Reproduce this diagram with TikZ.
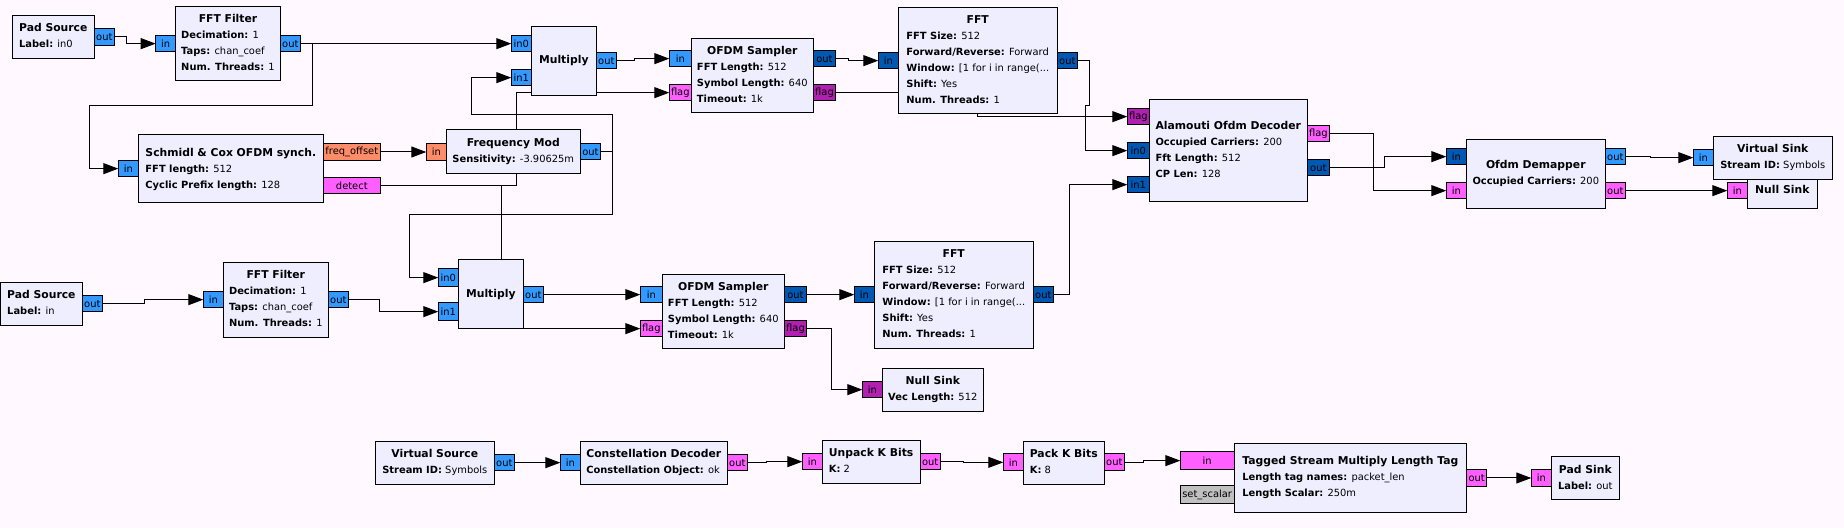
\documentclass[tikz,border=0pt]{standalone}
\usepackage{fontspec}
\setmainfont{DejaVu Sans}
\usetikzlibrary{arrows.meta}
\pgfdeclarelayer{bg}
\pgfsetlayers{bg,main}
\definecolor{bgcol}{RGB}{255,249,255}
\definecolor{blockfill}{RGB}{239,238,255}
\definecolor{cf}{RGB}{51,153,255}
\definecolor{cfv}{RGB}{0,88,178}
\definecolor{by}{RGB}{255,95,255}
\definecolor{byv}{RGB}{178,32,178}
\definecolor{fl}{RGB}{255,140,105}
\definecolor{msg}{RGB}{192,192,192}
\newcommand\gttl[1]{\multicolumn{1}{@{}c@{}}{\fontsize{5.4}{8}\selectfont\bfseries #1}}
\newcommand\gprm[2]{\textbf{#1:} #2}
\newcommand\gblk[6]{\node[block, minimum width={(#4-#2)*0.5pt}, minimum height={(#5-#3)*0.5pt}] (#1) at (#2,#3) {\begin{tabular}{@{}l@{}}#6\end{tabular}};}
\newcommand\gprt[7]{\node[port, fill=#6, minimum width={(#4-#2)*0.5pt}, minimum height={(#5-#3)*0.5pt}] (#1) at (#2,#3) {#7};}
\begin{document}
\begin{tikzpicture}[x=0.5pt, y=-0.5pt,
  block/.style={draw=black, line width=0.5pt, fill=blockfill, inner sep=0pt, outer sep=0pt, anchor=north west, font=\fontsize{4.95}{8}\selectfont},
  port/.style={draw=black, line width=0.5pt, inner sep=0pt, outer sep=0pt, anchor=north west, font=\fontsize{4.95}{6}\selectfont},
  conn/.style={line width=0.5pt, draw=black, -{Triangle[length=7.5pt,width=5.5pt]}}]
\begin{pgfonlayer}{bg}
\fill[bgcol] (0,0) rectangle (1844,528);
\end{pgfonlayer}
\useasboundingbox (0,0) rectangle (1844,528);
% ---------- blocks ----------
\gblk{ps1}{12.3}{15.3}{94.3}{58.3}{\gttl{Pad Source}\\\gprm{Label}{in0}}
\gblk{ff1}{175.7}{6.3}{280.3}{81}{\gttl{FFT Filter}\\\gprm{Decimation}{1}\\\gprm{Taps}{chan\_coef}\\\gprm{Num. Threads}{1}}
\gblk{sc}{138.3}{134.7}{323.3}{203}{\gttl{Schmidl \& Cox OFDM synch.}\\\gprm{FFT length}{512}\\\gprm{Cyclic Prefix length}{128}}
\gblk{fm}{446.3}{130}{580.3}{173.3}{\gttl{Frequency Mod}\\\gprm{Sensitivity}{-3.90625m}}
\gblk{m1}{531.3}{26.3}{596.3}{95.3}{\gttl{Multiply}}
\gblk{o1}{691.3}{38.3}{813.3}{113}{\gttl{OFDM Sampler}\\\gprm{FFT Length}{512}\\\gprm{Symbol Length}{640}\\\gprm{Timeout}{1k}}
\gblk{f1}{898.3}{7.3}{1057.3}{114}{\gttl{FFT}\\\gprm{FFT Size}{512}\\\gprm{Forward/Reverse}{Forward}\\\gprm{Window}{[1 for i in range(...}\\\gprm{Shift}{Yes}\\\gprm{Num. Threads}{1}}
\gblk{al}{1149.3}{99.3}{1307.3}{202}{\gttl{Alamouti Ofdm Decoder}\\\gprm{Occupied Carriers}{200}\\\gprm{Fft Length}{512}\\\gprm{CP Len}{128}}
\gblk{dm}{1466.3}{139.3}{1605.3}{208.3}{\gttl{Ofdm Demapper}\\\gprm{Occupied Carriers}{200}}
\gblk{nsb}{1747.3}{172}{1817.3}{208.3}{\gttl{Null Sink}}
\gblk{vsk}{1713.3}{136.3}{1832.3}{179.3}{\gttl{Virtual Sink}\\\gprm{Stream ID}{Symbols}}
\gblk{ps2}{0.5}{282.3}{82.3}{325.3}{\gttl{Pad Source}\\\gprm{Label}{in}}
\gblk{ff2}{223.3}{262.3}{328.3}{337.3}{\gttl{FFT Filter}\\\gprm{Decimation}{1}\\\gprm{Taps}{chan\_coef}\\\gprm{Num. Threads}{1}}
\gblk{m2}{458.3}{260}{523.3}{329}{\gttl{Multiply}}
\gblk{o2}{662.3}{274.3}{784.3}{349}{\gttl{OFDM Sampler}\\\gprm{FFT Length}{512}\\\gprm{Symbol Length}{640}\\\gprm{Timeout}{1k}}
\gblk{f2}{874.3}{241.3}{1033.3}{348.3}{\gttl{FFT}\\\gprm{FFT Size}{512}\\\gprm{Forward/Reverse}{Forward}\\\gprm{Window}{[1 for i in range(...}\\\gprm{Shift}{Yes}\\\gprm{Num. Threads}{1}}
\gblk{nsa}{882.3}{368.3}{983.3}{411.3}{\gttl{Null Sink}\\\gprm{Vec Length}{512}}
\gblk{vsrc}{375.3}{441.3}{494.3}{484.3}{\gttl{Virtual Source}\\\gprm{Stream ID}{Symbols}}
\gblk{cd}{580.3}{441.3}{727.3}{484.3}{\gttl{Constellation Decoder}\\\gprm{Constellation Object}{ok}}
\gblk{up}{822.3}{440.3}{920}{483.3}{\gttl{Unpack K Bits}\\\gprm{K}{2}}
\gblk{pk}{1023.3}{441.3}{1104.3}{484.3}{\gttl{Pack K Bits}\\\gprm{K}{8}}
\gblk{tg}{1234}{443.3}{1466.7}{512.3}{\gttl{Tagged Stream Multiply Length Tag}\\\gprm{Length tag names}{packet\_len}\\\gprm{Length Scalar}{250m}}
\gblk{psk}{1551.3}{456.7}{1619.3}{499.3}{\gttl{Pad Sink}\\\gprm{Label}{out}}
% ---------- ports ----------
\gprt{ps1o}{94.3}{28.7}{114.3}{45.3}{cf}{out}
\gprt{ff1i}{155.7}{35.3}{175.7}{52}{cf}{in}
\gprt{ff1o}{280.3}{35.3}{300.3}{52}{cf}{out}
\gprt{sci}{118.3}{160.3}{138.3}{177}{cf}{in}
\gprt{scf}{323.3}{143.7}{380.3}{160.3}{fl}{freq\_offset}
\gprt{scd}{323.3}{177.3}{380.3}{194}{by}{detect}
\gprt{fmi}{426.3}{143.7}{446.3}{160.3}{fl}{in}
\gprt{fmo}{580.3}{143.3}{600.7}{160}{cf}{out}
\gprt{m1a}{511.3}{35.3}{531.3}{52}{cf}{in0}
\gprt{m1b}{511.3}{69.3}{531.3}{86}{cf}{in1}
\gprt{m1o}{596.3}{52.3}{616.3}{69}{cf}{out}
\gprt{o1i}{669.3}{50.3}{691.3}{67}{cf}{in}
\gprt{o1f}{669.3}{84.3}{691.3}{101}{by}{flag}
\gprt{o1o}{813.3}{50.3}{835.7}{67}{cfv}{out}
\gprt{o1g}{813.3}{84.3}{835.7}{101}{byv}{flag}
\gprt{f1i}{878.3}{52.3}{898.3}{69}{cfv}{in}
\gprt{f1o}{1057.3}{52.3}{1077.3}{69}{cfv}{out}
\gprt{alf}{1127.3}{108.3}{1149.3}{125}{byv}{flag}
\gprt{ala}{1127.3}{142.3}{1149.3}{159}{cfv}{in0}
\gprt{alb}{1127.3}{176.3}{1149.3}{193}{cfv}{in1}
\gprt{alg}{1307.3}{125.3}{1329.3}{142}{by}{flag}
\gprt{alo}{1307.3}{159.3}{1329.3}{176}{cfv}{out}
\gprt{dma}{1446.3}{148.3}{1466.3}{165}{cfv}{in}
\gprt{dmb}{1446.3}{182.3}{1466.3}{199}{by}{in}
\gprt{dmo}{1605.3}{148.3}{1625.3}{165}{cf}{out}
\gprt{dmp}{1605.3}{182.3}{1625.3}{199}{by}{out}
\gprt{vski}{1693.3}{149.3}{1713.3}{166}{cf}{in}
\gprt{nsbi}{1727.3}{182.3}{1747.3}{199}{by}{in}
\gprt{ps2o}{82.3}{295.3}{102.3}{312}{cf}{out}
\gprt{ff2i}{203.3}{291.3}{223.3}{308}{cf}{in}
\gprt{ff2o}{328.3}{291.3}{348.3}{308}{cf}{out}
\gprt{m2a}{438.3}{269}{458.3}{286.3}{cf}{in0}
\gprt{m2b}{438.3}{303}{458.3}{320.3}{cf}{in1}
\gprt{m2o}{523.3}{286.3}{543.3}{303}{cf}{out}
\gprt{o2i}{640.3}{286.3}{662.3}{303}{cf}{in}
\gprt{o2f}{640.3}{320.3}{662.3}{337}{by}{flag}
\gprt{o2o}{784.3}{286.3}{806.7}{303}{cfv}{out}
\gprt{o2g}{784.3}{320.3}{806.7}{337}{byv}{flag}
\gprt{f2i}{854.3}{286.3}{874.3}{303}{cfv}{in}
\gprt{f2o}{1033.3}{286.3}{1053.3}{303}{cfv}{out}
\gprt{nsai}{862.3}{381.3}{882.3}{398}{byv}{in}
\gprt{vsrco}{494.3}{454.3}{514.3}{471}{cf}{out}
\gprt{cdi}{560.3}{454.3}{580.3}{471}{cf}{in}
\gprt{cdo}{727.3}{454.3}{747.3}{471}{by}{out}
\gprt{upi}{802.3}{453.3}{822.3}{470}{by}{in}
\gprt{upo}{920}{453.3}{940.3}{470}{by}{out}
\gprt{pki}{1003.3}{454}{1023.3}{470.7}{by}{in}
\gprt{pko}{1104.3}{454}{1124.3}{470.7}{by}{out}
\gprt{tgi}{1180.3}{452}{1234}{469.3}{by}{in}
\gprt{tgs}{1180.3}{486}{1234}{503.3}{msg}{set\_scalar}
\gprt{tgo}{1466.7}{469.3}{1486.7}{486.7}{by}{out}
\gprt{pski}{1531.3}{469.3}{1551.3}{486.7}{by}{in}
% ---------- connections ----------
\begin{pgfonlayer}{bg}
\draw[conn] (ps1o.east) -- ++(11.7,0) |- (ff1i.west);
\draw[conn] (ff1o.east) -- (m1a.west);
\draw[conn] (ff1o.east) -- ++(12,0) |- (89.3,105.3) |- (sci.west);
\draw[conn] (scf.east) -- (fmi.west);
\draw[conn] (scd.east) -- ++(136.4,0) |- (o1f.west);
\draw[conn] (scd.east) -- ++(121,0) |- (o2f.west);
\draw[conn] (fmo.east) -- ++(11.6,0) |- (471.3,114.3) |- (m1b.west);
\draw[conn] (fmo.east) -- ++(11.6,0) |- (409.3,214.3) |- (m2a.west);
\draw[conn] (m1o.east) -- ++(18,0) |- (o1i.west);
\draw[conn] (o1o.east) -- ++(12.6,0) |- (f1i.west);
\draw[conn] (o1g.east) -- ++(142,0) |- (alf.west);
\draw[conn] (f1o.east) -- ++(12,0) |- (1085.7,105.3) |- (ala.west);
\draw[conn] (f2o.east) -- ++(16,0) |- (alb.west);
\draw[conn] (m2o.east) -- (o2i.west);
\draw[conn] (o2o.east) -- (f2i.west);
\draw[conn] (o2g.east) -- ++(25,0) |- (nsai.west);
\draw[conn] (ps2o.east) -- ++(42,0) |- (ff2i.west);
\draw[conn] (ff2o.east) -- ++(31,0) |- (m2b.west);
\draw[conn] (alg.east) -- ++(44,0) |- (dmb.west);
\draw[conn] (alo.east) -- ++(54.7,0) |- (dma.west);
\draw[conn] (dmo.east) -- ++(25,0) |- (vski.west);
\draw[conn] (dmp.east) -- (nsbi.west);
\draw[conn] (vsrco.east) -- (cdi.west);
\draw[conn] (cdo.east) -- ++(18.7,0) |- (upi.west);
\draw[conn] (upo.east) -- ++(23,0) |- (pki.west);
\draw[conn] (pko.east) -- ++(19,0) |- (tgi.west);
\draw[conn] (tgo.east) -- (pski.west);
\end{pgfonlayer}
\end{tikzpicture}
\end{document}
